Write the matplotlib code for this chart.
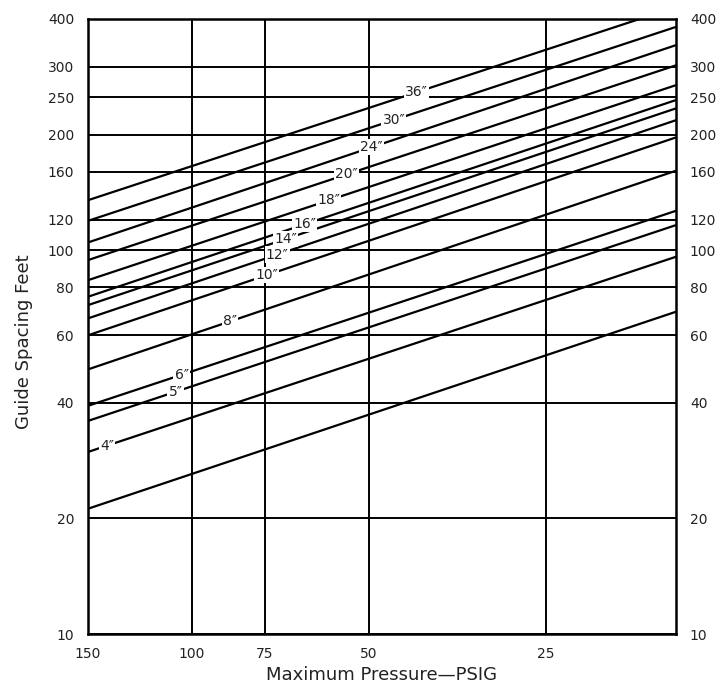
import matplotlib
matplotlib.use("Agg")
import matplotlib.pyplot as plt
import numpy as np
from matplotlib.ticker import NullLocator, FixedLocator, FixedFormatter

# ---- data ----
pipe_sizes = ['36″', '30″', '24″', '20″', '18″', '16″', '14″', '12″', '10″',
              '8″', '6″', '5″', '4″', '']
start_pressure = [150] * 14
start_spacing = [134.9, 119.2, 104.7, 94.2, 83.5, 75.6, 71.9, 66.4, 60.0,
                 48.9, 39.3, 35.9, 29.8, 21.2]
end_pressure = [17.3, 15, 15, 15, 15, 15, 15, 15, 15, 15, 15, 15, 15, 15]
end_spacing = [400, 381.5, 342, 303, 269, 246, 234, 218, 196.6,
               161, 126.6, 116.2, 96.1, 69.1]

x_ticks = [150, 100, 75, 50, 25]
y_ticks = [10, 20, 40, 60, 80, 100, 120, 160, 200, 250, 300, 400]

# label anchor pressures (positions along each line)
label_pressure = [41.4, 45.3, 49.4, 54.5, 58.5, 64.2, 69.1, 71.5, 74.5,
                  86.0, 104.0, 106.5, 139.0, None]

# ---- figure ----
W, H = 726, 688
fig = plt.figure(figsize=(W / 100, H / 100), dpi=100)
L, R, T, B = 88, 676, 19, 634
ax = fig.add_axes([L / W, 1 - B / H, (R - L) / W, (B - T) / H])

ax.set_xscale('log')
ax.set_yscale('log')
ax.set_xlim(150, 15)
ax.set_ylim(10, 400)

ax.xaxis.set_major_locator(FixedLocator(x_ticks))
ax.xaxis.set_major_formatter(FixedFormatter([str(v) for v in x_ticks]))
ax.xaxis.set_minor_locator(NullLocator())
ax.yaxis.set_major_locator(FixedLocator(y_ticks))
ax.yaxis.set_major_formatter(FixedFormatter([str(v) for v in y_ticks]))
ax.yaxis.set_minor_locator(NullLocator())

ax.grid(True, which='major', color='black', lw=1.4, zorder=1)
ax.set_axisbelow(True)
for s in ax.spines.values():
    s.set_linewidth(1.8)
    s.set_color('black')

ax.tick_params(axis='both', length=0, labelsize=10, colors='#222222')
ax.tick_params(axis='y', pad=10, labelright=True, right=True)
ax.tick_params(axis='x', pad=9)

for i in range(len(pipe_sizes)):
    xs = [start_pressure[i], end_pressure[i]]
    ys = [start_spacing[i], end_spacing[i]]
    ax.plot(xs, ys, color='black', lw=1.6, zorder=3, solid_capstyle='butt')
    lp = label_pressure[i]
    if lp is not None and pipe_sizes[i]:
        # position on the line (log-log interpolation)
        t = (np.log(lp) - np.log(xs[0])) / (np.log(xs[1]) - np.log(xs[0]))
        ly = np.exp(np.log(ys[0]) + t * (np.log(ys[1]) - np.log(ys[0])))
        ax.text(lp, ly, pipe_sizes[i], fontsize=10, ha='center', va='center',
                color='#222222', zorder=5,
                bbox=dict(boxstyle='square,pad=0.08', fc='white', ec='none'))

ax.set_xlabel('Maximum Pressure—PSIG', fontsize=13, color='#222222', labelpad=4)
ax.set_ylabel('Guide Spacing Feet', fontsize=13, color='#222222')
ax.yaxis.set_label_coords((33 - L) / (R - L), (B - 341.7) / (B - T))

fig.savefig('out.png', dpi=100)
